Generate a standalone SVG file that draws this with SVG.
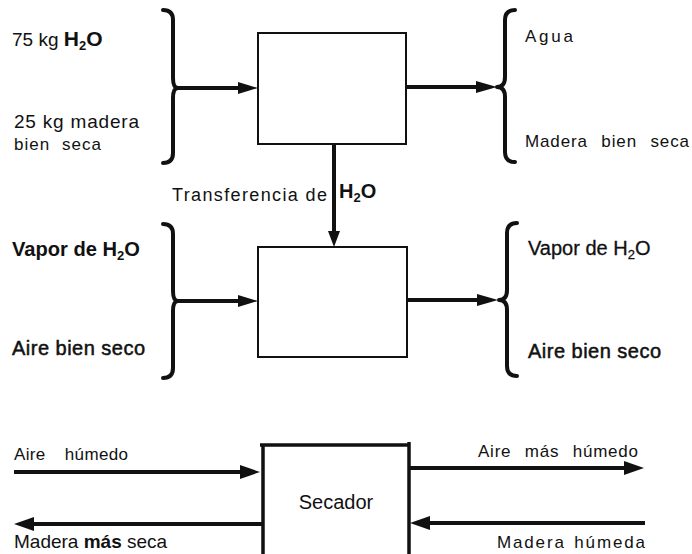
<svg xmlns="http://www.w3.org/2000/svg" width="692" height="554" viewBox="0 0 692 554">
<defs>
<style>
text{font-family:"Liberation Sans",Arial,sans-serif;fill:#111}
.brace{fill:none;stroke:#111;stroke-width:4;stroke-linecap:round;stroke-linejoin:round}
.box{fill:#fff;stroke:#111;stroke-width:2}
.ln{fill:none;stroke:#111;stroke-width:4}
.ah{fill:#111;stroke:none}
.b{font-weight:bold}
.sp{font-family:"Liberation Sans Narrow","Liberation Sans",Arial,sans-serif;font-size:17px}
</style>
</defs>
<g id="connectors">
<path class="brace" d="M163,10 Q173,10 173,20 L173,78 Q173,88 178,88 Q173,88 173,98 L173,153 Q173,163 163,163"/>
<path class="brace" d="M515,10 Q505,10 505,20 L505,77 Q505,87 497,87 Q505,87 505,97 L505,152 Q505,162 515,162"/>
<path class="brace" d="M163,224 Q173,224 173,234 L173,291 Q173,301 178,301 Q173,301 173,311 L173,368 Q173,378 163,378"/>
<path class="brace" d="M517,223 Q507,223 507,233 L507,290 Q507,300 499,300 Q507,300 507,310 L507,366 Q507,376 517,376"/>
<line class="ln" x1="178" y1="88" x2="242" y2="88"/><polygon class="ah" points="258,88 238,82 238,94"/>
<line class="ln" x1="406" y1="87" x2="480" y2="87"/><polygon class="ah" points="497,87 476,81 476,93"/>
<line class="ln" x1="178" y1="301" x2="242" y2="301"/><polygon class="ah" points="258,301 238,295 238,307"/>
<line class="ln" x1="407" y1="300" x2="480" y2="300"/><polygon class="ah" points="498,300 477,294 477,306"/>
<line class="ln" x1="334" y1="144" x2="334" y2="234" stroke-width="3.5"/><polygon class="ah" points="334,247 328,231 340,231"/>
<line class="ln" x1="14" y1="472" x2="244" y2="472"/><polygon class="ah" points="260,472 240,465 240,479"/>
<line class="ln" x1="263" y1="524" x2="30" y2="524"/><polygon class="ah" points="14,524 34,517 34,531"/>
<line class="ln" x1="409" y1="468" x2="628" y2="468"/><polygon class="ah" points="644,468 624,461 624,475"/>
<line class="ln" x1="645" y1="523" x2="426" y2="523"/><polygon class="ah" points="410,523 430,516 430,530"/>
</g>
<g id="box1"><rect class="box" x="258" y="33" width="148" height="111"/></g>
<g id="box2"><rect class="box" x="258" y="247" width="149" height="110"/></g>
<g id="secador">
<path d="M260,445 L409,445 M263,445 L263,556 M409,442 L409,556" fill="none" stroke="#111" stroke-width="3.5"/>
<text x="336" y="509" font-size="20" text-anchor="middle">Secador</text>
</g>
<g id="labels">
<text x="12" y="46" font-size="19">75 kg <tspan class="b" font-size="21">H</tspan><tspan class="b" font-size="13" dy="4">2</tspan><tspan class="b" font-size="21" dy="-4">O</tspan></text>
<text x="14" y="128" font-size="19" textLength="125">25 kg madera</text>
<text x="14" y="150" class="sp" word-spacing="6" textLength="87" lengthAdjust="spacing">bien seca</text>
<text x="525" y="42" class="sp" textLength="48" lengthAdjust="spacing">Agua</text>
<text x="525" y="147" class="sp" word-spacing="8" textLength="164" lengthAdjust="spacing">Madera bien seca</text>
<text x="172" y="201" font-size="18" textLength="155" lengthAdjust="spacing">Transferencia de</text>
<text x="339" y="198" font-size="20" class="b">H<tspan font-size="13" dy="4">2</tspan><tspan dy="-4">O</tspan></text>
<text x="12" y="256" font-size="20" class="b" textLength="128" lengthAdjust="spacingAndGlyphs">Vapor de H<tspan font-size="13" dy="4">2</tspan><tspan dy="-4">O</tspan></text>
<text x="12" y="355" font-size="20" stroke="#111" stroke-width="0.5" textLength="133">Aire bien seco</text>
<text x="528" y="255" font-size="20" stroke="#111" stroke-width="0.3">Vapor de H<tspan font-size="13" dy="4">2</tspan><tspan dy="-4">O</tspan></text>
<text x="528" y="358" font-size="20" stroke="#111" stroke-width="0.5" textLength="133">Aire bien seco</text>
<text x="14" y="460" class="sp" word-spacing="14" textLength="114" lengthAdjust="spacing">Aire húmedo</text>
<text x="14" y="548" font-size="19">Madera <tspan class="b">más</tspan> seca</text>
<text x="478" y="457" class="sp" word-spacing="8" textLength="160" lengthAdjust="spacing">Aire más húmedo</text>
<text x="497" y="548" class="sp" word-spacing="2" textLength="148" lengthAdjust="spacing">Madera húmeda</text>
</g>
</svg>
